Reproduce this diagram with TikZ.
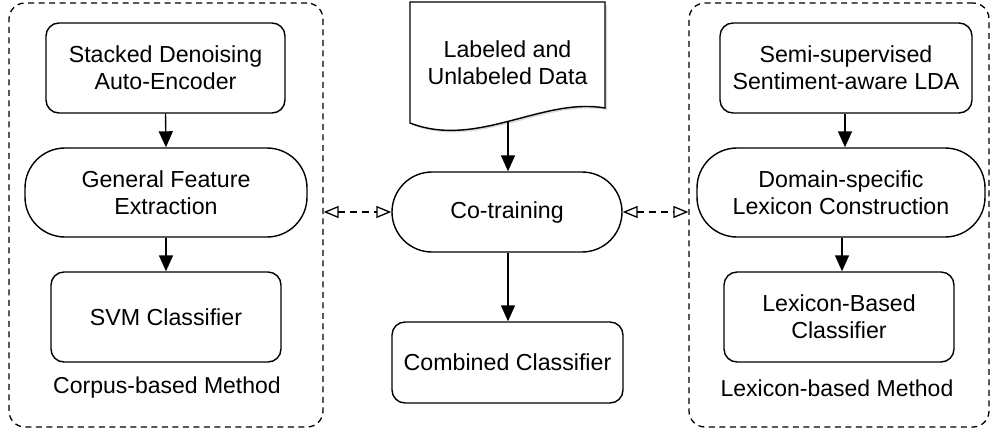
\documentclass[tikz,border=0pt]{standalone}
\usepackage{fontspec}
\setmainfont{Liberation Sans}
\usetikzlibrary{arrows.meta}
\begin{document}
\begin{tikzpicture}[x=1pt,y=-1pt,
  every node/.style={font=\fontsize{23.2}{27}\selectfont, align=center, inner sep=0pt},
  box/.style={draw, line width=1.4pt, rounded corners=13pt},
  stadium/.style={draw, line width=1.4pt, rounded corners=40pt},
  container/.style={draw, line width=1.3pt, dash pattern=on 6pt off 4.5pt, rounded corners=16pt},
  flow/.style={line width=1.4pt, -{Triangle[length=16pt,width=14pt]}},
  link/.style={line width=1.3pt, dash pattern=on 7pt off 5pt, {Triangle[open,length=15pt,width=12pt,line width=1.3pt]}-{Triangle[open,length=15pt,width=12pt,line width=1.3pt]}},
  lbl/.style={font=\fontsize{23}{27}\selectfont}
]
\useasboundingbox (0,0) rectangle (992,432);

% containers
\node[container, minimum width=314pt, minimum height=424pt] (cleft) at (166,215) {};
\node[container, minimum width=300pt, minimum height=424pt] (cright) at (839,215) {};

% left column
\node[box, minimum width=239pt, minimum height=90pt] (sdae) at (165.5,68) {Stacked Denoising\\Auto-Encoder};
\node[stadium, minimum width=282pt, minimum height=89pt] (gfe) at (166,192.5) {General Feature\\Extraction};
\node[box, minimum width=230pt, minimum height=90pt] (svm) at (166,317) {SVM Classifier};
\node[lbl] (clab) at (167,388) {Corpus-based Method};

% right column
\node[box, minimum width=252pt, minimum height=90pt] (ssla) at (846,68) {Semi-supervised\\Sentiment-aware LDA};
\node[stadium, minimum width=288pt, minimum height=89pt] (dslc) at (841,192.5) {Domain-specific\\Lexicon Construction};
\node[box, minimum width=230pt, minimum height=90pt] (lbc) at (839,317) {Lexicon-Based\\Classifier};
\node[lbl] (rlab) at (837,388) {Lexicon-based Method};

% document shape
\fill[gray!30] (412,5) -- (607,5) -- (607,110)
  .. controls (544,99) and (479,151) .. (412,125) -- cycle;
\draw[line width=1.4pt, fill=white] (410,2) -- (605,2) -- (605,108)
  .. controls (542,97) and (477,149) .. (410,123) -- cycle;
\node (doc) at (507.5,63) {Labeled and\\Unlabeled Data};
\coordinate (docbot) at (508,121);

% center
\node[stadium, minimum width=230pt, minimum height=80pt] (cot) at (507,212) {Co-training};
\node[box, minimum width=231pt, minimum height=81pt] (comb) at (507.5,362.5) {Combined Classifier};

% arrows
\draw[flow] (sdae.south) -- (gfe.north);
\draw[flow] (gfe.south) -- (svm.north);
\draw[flow] (ssla.south -| 845,0) -- (dslc.north -| 845,0);
\draw[flow] (dslc.south -| 842,0) -- (lbc.north -| 842,0);
\draw[flow] (docbot) -- (cot.north -| docbot);
\draw[flow] (cot.south -| docbot) -- (comb.north -| docbot);

\draw[link] (cleft.east |- cot.west) -- (cot.west);
\draw[link] (cot.east) -- (cright.west |- cot.east);
\end{tikzpicture}
\end{document}
